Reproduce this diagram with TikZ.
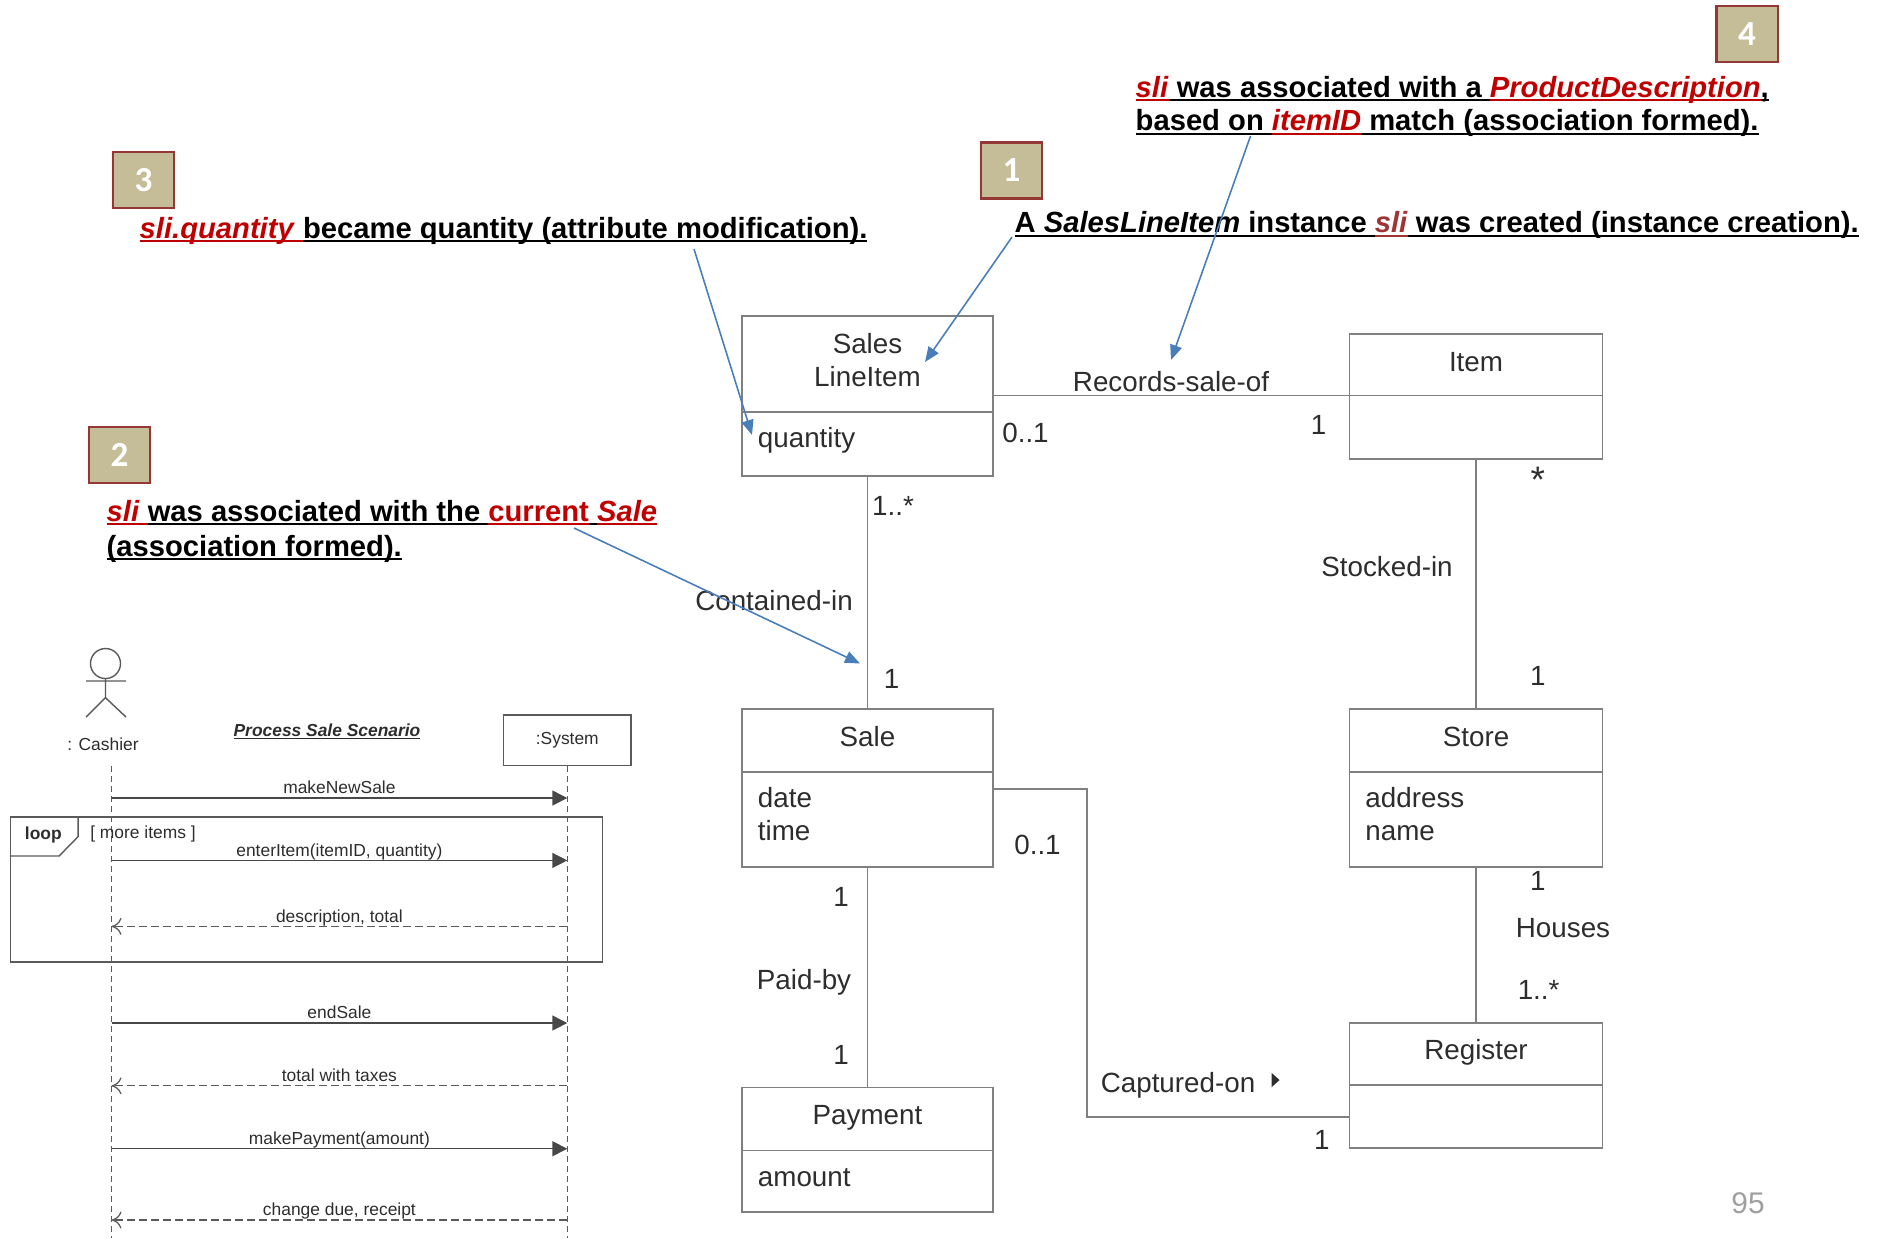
\documentclass[tikz,border=0pt]{standalone}
\usepackage{fontspec}
\setmainfont{Liberation Sans}
\newfontfamily\numfamily{Carlito}
\usepackage{tikz}
\usetikzlibrary{arrows.meta}
\pgfdeclarelayer{bg}
\pgfsetlayers{bg,main}

\definecolor{notered}{RGB}{192,0,0}
\definecolor{notebrown}{RGB}{160,52,52}
\definecolor{noteblue}{RGB}{74,126,187}
\definecolor{tagfill}{RGB}{196,189,151}
\definecolor{tagline}{RGB}{149,55,53}
\definecolor{umlline}{RGB}{128,128,128}
\definecolor{umltext}{RGB}{45,45,45}
\definecolor{seqline}{RGB}{90,90,90}

\newcommand{\umlfont}{\fontsize{7.9}{9.5}\selectfont}
\newcommand{\notefont}{\fontsize{8.3}{10}\selectfont\bfseries}
\newcommand{\seqfont}{\fontsize{4.95}{6}\selectfont}
\newcommand{\ulpart}[1]{\setbox0=\hbox{#1}\rlap{\rule[-0.14em]{\wd0}{0.065em}}\box0}
\newcommand{\redul}[1]{\textcolor{notered}{\ulpart{#1}}}

\begin{document}
\begin{tikzpicture}[x=0.01cm, y=-0.01cm,
  tagbox/.style={fill=tagfill, draw=tagline, line width=0.6pt, minimum width=0.61cm, minimum height=0.56cm, inner sep=0pt, text=white, font=\numfamily\bfseries\fontsize{10}{12}\selectfont},
  note/.style={anchor=base west, inner sep=0pt, font=\notefont},
  notearrow/.style={draw=noteblue, line width=0.45pt, -{Triangle[length=0.15cm, width=0.12cm]}},
  clsname/.style={draw=umlline, line width=0.5pt, inner sep=0pt, outer sep=0pt, align=center, text height=3.7mm, text=umltext, font=\umlfont},
  clsattr/.style={draw=umlline, line width=0.5pt, inner xsep=0.16cm, inner ysep=0pt, outer sep=0pt, align=left, text height=3.55mm, text=umltext, font=\umlfont, anchor=north},
  assoc/.style={draw=umlline, line width=0.5pt},
  umllabel/.style={inner sep=0pt, text=umltext, font=\umlfont},
  seqtext/.style={inner sep=0pt, text=umltext, font=\seqfont},
  msglabel/.style={seqtext, above=0pt, text depth=1pt},
  seqbox/.style={draw=seqline, line width=0.4pt},
  lifeline/.style={draw=seqline, line width=0.35pt, dash pattern=on 0.06cm off 0.04cm},
  callmsg/.style={draw=seqline!80!black, line width=0.4pt, -{Triangle[length=0.15cm, width=0.15cm]}},
  replymsg/.style={draw=seqline, line width=0.35pt, dash pattern=on 0.08cm off 0.04cm, -{Computer Modern Rightarrow[length=0.1cm, width=0.17cm]}},
]
  \useasboundingbox (0,0) rectangle (1877,1238);

  % numbered notes
  \node [tagbox] (tag3) at (143.5,180) { 3 };
  \node [note] (note3) at (139,238) {\redul{\textit{sli.quantity} }\ulpart{became quantity (attribute modification).}};
  \node [tagbox] (tag2) at (119.5,455) { 2 };
  \node [note] (note2a) at (106,521) {\redul{\textit{sli} }\ulpart{was associated with the }\redul{current}\ulpart{ }\redul{\textit{Sale}}};
  \node [note] (note2b) at (106,556) {\ulpart{(association formed).}};
  \node [tagbox] (tag1) at (1011.5,170.5) { 1 };
  \node [note] (note1) at (1014,232.5) {\ulpart{A \textit{SalesLineItem} instance }\textcolor{notebrown}{\ulpart{\textit{sli}}}\ulpart{ was created (instance creation).}};
  \node [tagbox] (tag4) at (1747,33.7) { 4 };
  \node [note] (note4a) at (1135,97) {\redul{\textit{sli}}\ulpart{ was associated with a }\redul{\textit{ProductDescription}}\ulpart{,}};
  \node [note] (note4b) at (1135,130.5) {\ulpart{based on }\redul{\textit{itemID}}\ulpart{ match (association formed).}};

  % domain model
  \node [clsname, text width=2.51cm, text depth=5.9mm] (sliN) at (867.5,364) { Sales\\LineItem };
  \node [clsattr, text width=2.19cm, text depth=2.85mm] (sliA) at (sliN.south) { quantity };
  \node [clsname, text width=2.53cm, text depth=2.44mm] (itemN) at (1476,364.7) { Item };
  \node [clsattr, text width=2.21cm, text depth=2.78mm] (itemA) at (itemN.south) {};
  \node [clsname, text width=2.51cm, text depth=2.6mm] (saleN) at (867.5,740.5) { Sale };
  \node [clsattr, text width=2.19cm, text depth=5.95mm] (saleA) at (saleN.south) { date\\time };
  \node [clsname, text width=2.53cm, text depth=2.6mm] (storeN) at (1476,740.5) { Store };
  \node [clsattr, text width=2.21cm, text depth=5.95mm] (storeA) at (storeN.south) { address\\name };
  \node [clsname, text width=2.51cm, text depth=2.6mm] (payN) at (867.5,1119) { Payment };
  \node [clsattr, text width=2.19cm, text depth=2.62mm] (payA) at (payN.south) { amount };
  \node [clsname, text width=2.53cm, text depth=2.55mm] (regN) at (1476,1054) { Register };
  \node [clsattr, text width=2.21cm, text depth=2.74mm] (regA) at (regN.south) {};

  \draw [assoc] (itemN.south west) -- (itemN.south west -| sliN.east);
  \draw [assoc] (sliA.south) -- (saleN.north);
  \draw [assoc] (itemA.south) -- (storeN.north);
  \draw [assoc] (saleA.south) -- (payN.north);
  \draw [assoc] (storeA.south) -- (regN.north);
  \coordinate (capbend) at (1087,789);
  \draw [assoc] (regA.west) -| (capbend) -- (capbend -| saleA.east);

  \node [umllabel] (rsoL) at (1171,381.5) { Records-sale-of };
  \node [umllabel] (rsoA) at (1025.5,433) { 0..1 };
  \node [umllabel] (rsoB) at (1318.5,425) { 1 };
  \node [umllabel] (ciA) at (893,506) { 1..* };
  \node [umllabel] (ciL) at (774,601) { Contained-in };
  \node [umllabel] (ciB) at (891.5,678.5) { 1 };
  \node [umllabel, font=\fontsize{10.5}{12}\selectfont] (siA) at (1537.7,480) { * };
  \node [umllabel] (siL) at (1387,567) { Stocked-in };
  \node [umllabel] (siB) at (1537.7,676) { 1 };
  \node [umllabel] (pbA) at (841,896.8) { 1 };
  \node [umllabel] (pbL) at (804,981.8) { Paid-by };
  \node [umllabel] (pbB) at (841,1055) { 1 };
  \node [umllabel] (coA) at (1037.5,845.4) { 0..1 };
  \node [umllabel] (coL) at (1178,1085) { Captured-on };
  \fill [umltext] (1271.7,1073) -- (1279.5,1080) -- (1271.7,1087) -- cycle;
  \node [umllabel] (coB) at (1321.7,1140) { 1 };
  \node [umllabel] (hoA) at (1537.7,881) { 1 };
  \node [umllabel] (hoL) at (1563,928.4) { Houses };
  \node [umllabel] (hoB) at (1538.6,989.7) { 1..* };
  \node [umllabel, text=gray!75, font=\fontsize{8.5}{10}\selectfont] (page) at (1748,1203) { 95 };

  % system sequence diagram
  \node [seqbox, circle, minimum size=0.3cm, inner sep=0pt] (head) at (105.5,663.5) {};
  \draw [seqbox] (head.south) -- ++(0,18.5) coordinate (hip) (86,681) -- (126,681) (86,717) -- (hip) -- (126,717);
  \node [seqtext] (cashier) at (103,744.5) { : Cashier };
  \node [seqtext, font=\seqfont\bfseries\itshape] (scen) at (327,731.5) {\ulpart{Process Sale Scenario}};
  \node [seqtext, seqbox, minimum width=1.274cm, minimum height=0.505cm] (sys) at (567.3,740.2) { :System };
  \coordinate (cashTop) at (111.5,766);
  \coordinate (cashEnd) at (111.5,1238);

  \begin{pgfonlayer}{bg}    % lifelines and frame under the messages
    \draw [lifeline] (cashTop) -- (cashEnd);
    \draw [lifeline] (sys.south) -- (sys.south |- cashEnd);
    \node [seqbox, minimum width=5.917cm, minimum height=1.45cm, inner sep=0pt] (loopF) at (306.65,889.5) {};
    \draw [seqbox] (loopF.north west) ++(0,39.7) -- ++(49.2,0) -- ++(19,-19.4) -- ++(0,-20.3);
  \end{pgfonlayer}
  \node [seqtext, font=\seqfont\bfseries] (loopT) at (43.3,835) { loop };
  \node [seqtext] (guard) at (143,834) { [ more items ] };

  \draw [callmsg] (cashTop |- 0,798) -- node [msglabel] (m1) { makeNewSale } (sys.south |- 0,798);
  \draw [callmsg] (cashTop |- 0,860.4) -- node [msglabel] (m2) { enterItem(itemID, quantity) } (sys.south |- 0,860.4);
  \draw [replymsg] (sys.south |- 0,926.4) -- node [msglabel] (m3) { description, total } (cashTop |- 0,926.4);
  \draw [callmsg] (cashTop |- 0,1023) -- node [msglabel] (m4) { endSale } (sys.south |- 0,1023);
  \draw [replymsg] (sys.south |- 0,1085.8) -- node [msglabel] (m5) { total with taxes } (cashTop |- 0,1085.8);
  \draw [callmsg] (cashTop |- 0,1148.7) -- node [msglabel] (m6) { makePayment(amount) } (sys.south |- 0,1148.7);
  \draw [replymsg] (sys.south |- 0,1220) -- node [msglabel] (m7) { change due, receipt } (cashTop |- 0,1220);

  % note pointers
  \coordinate (p1) at (1012,237);
  \coordinate (h1) at (925,362);
  \coordinate (p2) at (574,528);
  \coordinate (h2) at (860,663.5);
  \coordinate (p3) at (694,249);
  \coordinate (h3) at (752,435);
  \coordinate (p4) at (1250.5,136);
  \coordinate (h4) at (1171,360);
  \draw [notearrow] (p1) -- (h1);
  \draw [notearrow] (p2) -- (h2);
  \draw [notearrow] (p3) -- (h3);
  \draw [notearrow] (p4) -- (h4);
\end{tikzpicture}
\end{document}
